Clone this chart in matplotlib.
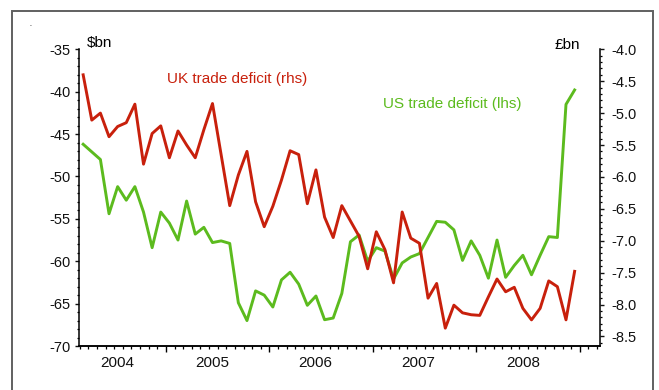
import numpy as np
import matplotlib
matplotlib.use('Agg')
import matplotlib.pyplot as plt
from matplotlib.patches import Rectangle
from matplotlib.ticker import MultipleLocator, FixedLocator, NullFormatter

plt.rcParams['font.family'] = ['Liberation Sans', 'DejaVu Sans']

# monthly values, Mar 2004 .. Dec 2008
us_deficit = [
    -46.2, -47.1, -48.0, -54.4, -51.2, -52.8, -51.2, -54.2, -58.4, -54.2,
    -55.5, -57.5, -52.9, -56.8, -56.0, -57.8, -57.6, -57.9, -64.9, -67.0,
    -63.5, -64.0, -65.4, -62.2, -61.3, -62.7, -65.2, -64.1, -66.9, -66.7,
    -63.8, -57.7, -56.9, -60.0, -58.4, -58.8, -62.1, -60.2, -59.5, -59.1,
    -57.2, -55.3, -55.4, -56.3, -59.9, -57.6, -59.3, -62.0, -57.5, -61.9,
    -60.5, -59.3, -61.6, -59.3, -57.1, -57.2, -41.5, -39.8,
]
uk_deficit = [
    -4.40, -5.11, -5.00, -5.37, -5.21, -5.15, -4.86, -5.80, -5.32, -5.20,
    -5.70, -5.28, -5.50, -5.70, -5.26, -4.85, -5.65, -6.45, -5.97, -5.60,
    -6.39, -6.78, -6.46, -6.05, -5.59, -5.65, -6.42, -5.89, -6.63, -6.95,
    -6.45, -6.69, -6.93, -7.44, -6.86, -7.14, -7.66, -6.55, -6.96, -7.04,
    -7.90, -7.67, -8.37, -8.01, -8.13, -8.16, -8.17, -7.88, -7.60, -7.80,
    -7.73, -8.06, -8.24, -8.06, -7.63, -7.72, -8.24, -7.48,
]
years = ['2004', '2005', '2006', '2007', '2008']

RED = '#c8200c'
GREEN = '#5cbb1e'

# x in months since Jan 2004
months = np.arange(len(us_deficit)) + 2.4
year_label_x = [6.4, 17.4, 29.3, 41.3, 53.5]

fig = plt.figure(figsize=(6.59, 3.90), dpi=100)
ax = fig.add_axes([0.1203, 0.1128, 0.7909, 0.7608])
ax2 = ax.twinx()

ax.plot(months, us_deficit, color=GREEN, lw=2.1, zorder=2)
ax2.plot(months, uk_deficit, color=RED, lw=2.1, zorder=3)

ax.set_xlim(1.95, 62.4)
ax.set_ylim(-70, -35)
ax2.set_ylim(-8.65, -4.0)

ax.yaxis.set_major_locator(MultipleLocator(5))
ax.yaxis.set_minor_locator(MultipleLocator(1))
ax2.yaxis.set_major_locator(MultipleLocator(0.5))
ax2.yaxis.set_minor_locator(MultipleLocator(0.1))
ax2.yaxis.set_major_formatter(plt.FuncFormatter(lambda v, p: f'{v:.1f}'))
ax.yaxis.set_major_formatter(plt.FuncFormatter(lambda v, p: f'{v:.0f}'))

ax.xaxis.set_major_locator(FixedLocator([12, 24, 36, 48, 60]))
ax.xaxis.set_minor_locator(FixedLocator(np.arange(2, 63)))
ax.xaxis.set_major_formatter(NullFormatter())

for a in (ax, ax2):
    a.spines['top'].set_visible(False)
    for s in a.spines.values():
        s.set_linewidth(1.1)
ax2.spines['left'].set_visible(False)
ax.spines['right'].set_visible(False)

ax.tick_params(axis='y', which='major', length=2.8, width=1, labelsize=10.5, pad=3.5, colors='#111111')
ax.tick_params(axis='y', which='minor', length=1.6, width=0.9)
ax2.tick_params(axis='y', which='major', length=2.8, width=1, labelsize=10.5, pad=5, colors='#111111')
ax2.tick_params(axis='y', which='minor', length=1.6, width=0.9)
ax.tick_params(axis='x', which='major', length=4, width=1)
ax.tick_params(axis='x', which='minor', length=2, width=0.9)

for x, lab in zip(year_label_x, years):
    ax.text(x, -0.056, lab, transform=ax.get_xaxis_transform(), ha='center', va='center',
            fontsize=11, color='#111111')

ax.text(0.0148, 1.021, '$bn', transform=ax.transAxes, ha='left', va='center', fontsize=11)
ax.text(0.9607, 1.0145, '£bn', transform=ax.transAxes, ha='right', va='center', fontsize=11)
ax.text(0.168, 0.900, 'UK trade deficit (rhs)', transform=ax.transAxes, ha='left', va='center',
        fontsize=11, color=RED)
ax.text(0.5824, 0.8156, 'US trade deficit (lhs)', transform=ax.transAxes, ha='left', va='center',
        fontsize=11, color=GREEN)

fig.patches.append(Rectangle((12 / 659, -0.05), 641 / 659, (379 + 20) / 390,
                             transform=fig.transFigure, fill=False, edgecolor='#606060', lw=1.4))
fig.text(31 / 659, 1 - 26 / 390, '-', fontsize=4, ha='center', va='center')

fig.savefig('out.png', dpi=100)
